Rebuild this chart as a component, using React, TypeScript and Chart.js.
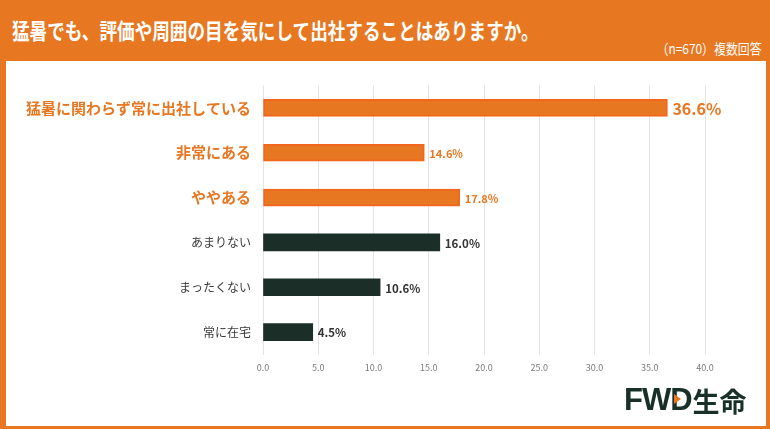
import React, { useEffect, useRef } from "react";
import Chart from "chart.js/auto";
import type { ChartConfiguration, Plugin } from "chart.js";

const TITLE = "猛暑でも、評価や周囲の目を気にして出社することはありますか。";
const NOTE = "（n=670）複数回答";

const categories = [
    "猛暑に関わらず常に出社している",
    "非常にある",
    "ややある",
    "あまりない",
    "まったくない",
    "常に在宅",
];
const values = [36.6, 14.6, 17.8, 16.0, 10.6, 4.5];
const highlighted = [true, true, true, false, false, false];
const xTicks = [0, 5, 10, 15, 20, 25, 30, 35, 40];

const ORANGE = "#E87722";
const ORANGE_EDGE = "#F2661E";
const DARK = "#1B2E27";
const FONT = "'Noto Sans CJK JP', 'Noto Sans', sans-serif";

const valueLabels: Plugin = {
    id: "valueLabels",
    afterDatasetsDraw(chart) {
        const ctx = chart.ctx;
        const meta = chart.getDatasetMeta(0);
        ctx.save();
        ctx.textAlign = "left";
        ctx.textBaseline = "middle";
        meta.data.forEach((bar: any, i) => {
            const size = i === 0 ? 16 : highlighted[i] ? 11 : 11.5;
            ctx.font = `bold ${size}px ${FONT}`;
            ctx.fillStyle = highlighted[i] ? ORANGE : "#333333";
            ctx.fillText(`${values[i].toFixed(1)}%`, bar.x + 5, bar.y + 1);
        });
        ctx.restore();
    },
};

const BarChart: React.FC = () => {
    const canvasRef = useRef<HTMLCanvasElement | null>(null);

    useEffect(() => {
        const canvas = canvasRef.current;
        if (!canvas) return;

        const config: ChartConfiguration<"bar"> = {
            type: "bar",
            data: {
                labels: categories,
                datasets: [
                    {
                        data: values,
                        backgroundColor: highlighted.map((h) => (h ? ORANGE : DARK)),
                        borderColor: highlighted.map((h) => (h ? ORANGE_EDGE : DARK)),
                        borderWidth: highlighted.map((h) => (h ? 2 : 0)),
                        borderSkipped: false,
                        barThickness: 17,
                    },
                ],
            },
            options: {
                indexAxis: "y",
                responsive: true,
                maintainAspectRatio: false,
                animation: false,
                layout: {
                    padding: { top: 25.5, right: 65, bottom: 41.5, left: 0 },
                },
                plugins: {
                    legend: { display: false },
                    tooltip: { enabled: false },
                },
                scales: {
                    x: {
                        type: "linear",
                        min: xTicks[0],
                        max: xTicks[xTicks.length - 1],
                        afterBuildTicks: (scale) => {
                            scale.ticks = xTicks.map((v) => ({ value: v }));
                        },
                        afterFit: (scale) => {
                            scale.height = 30;
                        },
                        grid: { color: "#e3e3e3", lineWidth: 1, drawTicks: false },
                        border: { display: false },
                        ticks: {
                            padding: 8,
                            color: "#7a7a7a",
                            font: { family: FONT, size: 9 },
                            callback: (v) => Number(v).toFixed(1),
                        },
                    },
                    y: {
                        type: "category",
                        afterFit: (scale) => {
                            scale.width = 263;
                        },
                        grid: { display: false, drawTicks: false },
                        border: { display: false },
                        ticks: {
                            padding: 12,
                            color: (c: any) => (highlighted[c.index] ? ORANGE : "#3a3a3a"),
                            font: (c: any) =>
                                highlighted[c.index]
                                    ? { family: FONT, size: 15, weight: "bold" }
                                    : { family: FONT, size: 12, weight: "normal" },
                        },
                    },
                },
            },
            plugins: [valueLabels],
        };

        const chart = new Chart(canvas, config);
        return () => {
            chart.destroy();
        };
    }, []);

    return <canvas ref={canvasRef} />;
};

export default function App() {
    return (
        <div
            style={{
                position: "fixed",
                left: 0,
                top: 0,
                width: 770,
                height: 429,
                background: ORANGE,
                overflow: "hidden",
                fontFamily: FONT,
            }}
        >
            <div
                style={{
                    position: "absolute",
                    left: 12,
                    top: 18,
                    fontSize: 22,
                    lineHeight: "22px",
                    fontWeight: "bold",
                    color: "#ffffff",
                    whiteSpace: "nowrap",
                    transform: "scaleX(0.8)",
                    transformOrigin: "left center",
                }}
            >
                {TITLE}
            </div>
            <div
                style={{
                    position: "absolute",
                    right: 8,
                    top: 41,
                    fontSize: 14,
                    lineHeight: "14px",
                    color: "#ffffff",
                    whiteSpace: "nowrap",
                    transform: "scaleX(0.85)",
                    transformOrigin: "right center",
                }}
            >
                {NOTE}
            </div>
            <div
                style={{
                    position: "absolute",
                    left: 6,
                    top: 61,
                    width: 760,
                    height: 365,
                    background: "#ffffff",
                }}
            />
            <div style={{ position: "absolute", left: 0, top: 60, width: 770, height: 366 }}>
                <BarChart />
            </div>
            <div
                style={{
                    position: "absolute",
                    left: 624,
                    top: 384,
                    height: 32,
                    display: "flex",
                    alignItems: "center",
                    color: "#183028",
                    whiteSpace: "nowrap",
                }}
            >
                <span
                    style={{
                        position: "relative",
                        fontFamily: "'Liberation Sans', Arial, sans-serif",
                        fontWeight: 900,
                        fontSize: 31,
                        letterSpacing: -1,
                    }}
                >
                    FWD
                    <span
                        style={{
                            position: "absolute",
                            left: 50,
                            top: 12,
                            width: 0,
                            height: 0,
                            borderTop: "5px solid transparent",
                            borderBottom: "5px solid transparent",
                            borderLeft: `7px solid ${ORANGE}`,
                        }}
                    />
                </span>
                <span style={{ fontFamily: FONT, fontWeight: "bold", fontSize: 27, marginLeft: 1 }}>生命</span>
            </div>
        </div>
    );
}
